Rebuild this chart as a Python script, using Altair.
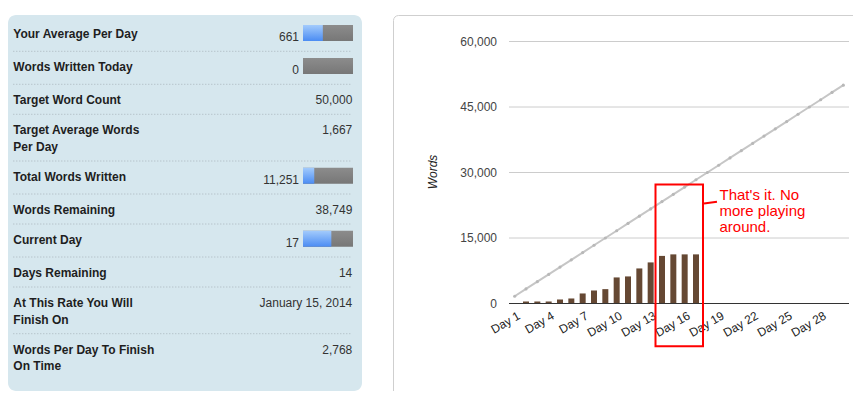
import altair as alt
import pandas as pd

# ---------------- data ----------------
days = [f"Day {i}" for i in range(1, 31)]
words_written = [0, 460, 460, 460, 920, 1150, 2300, 2980, 3290, 5970, 6200,
                 8030, 9410, 10900, 11251, 11251, 11251]
target_path = [1667, 3333, 5000, 6667, 8333, 10000, 11667, 13333, 15000, 16667,
               18333, 20000, 21667, 23333, 25000, 26667, 28333, 30000, 31667, 33333,
               35000, 36667, 38333, 40000, 41667, 43333, 45000, 46667, 48333, 50000]
y_ticks = [0, 15000, 30000, 45000, 60000]
x_tick_days = ["Day 1", "Day 4", "Day 7", "Day 10", "Day 13", "Day 16",
               "Day 19", "Day 22", "Day 25", "Day 28"]
y_title = "Words"
note_text = "That's it. No\nmore playing\naround."

stat_labels = ["Your Average Per Day", "Words Written Today", "Target Word Count",
               "Target Average Words\nPer Day", "Total Words Written", "Words Remaining",
               "Current Day", "Days Remaining", "At This Rate You Will\nFinish On",
               "Words Per Day To Finish\nOn Time"]
stat_values = ["661", "0", "50,000", "1,667", "11,251", "38,749", "17", "14",
               "January 15, 2014", "2,768"]
progress_done = [661, 0, None, None, 11251, None, 17, None, None, None]
progress_goal = [1667, 1667, None, None, 50000, None, 30, None, None, None]

# ---------------- layout (chart pixel coords = page - 8) ----------------
W, H = 845, 383
FONT = "Liberation Sans"

rows = []
top = 10.3
for i, (lab, val) in enumerate(zip(stat_labels, stat_values)):
    n_lines = lab.count("\n") + 1
    has_bar = progress_done[i] is not None
    h = 30 + 16.7 * (n_lines - 1) + (3 if has_bar else 0)
    rows.append({
        "label": lab, "value": val, "has_bar": has_bar,
        "frac": (progress_done[i] / progress_goal[i]) if has_bar else 0,
        "label_y": top + 20, "value_y": top + (22.5 if has_bar else 20),
        "bar_y": top + 6.7, "bar_y2": top + 22.7,
        "sep_y": top + h, "last": i == len(stat_labels) - 1,
    })
    top += h
table_df = pd.DataFrame(rows)

ident_y = alt.Scale(domain=[0, H], range=[0, H], zero=False, nice=False)

panel_bg = alt.Chart(pd.DataFrame({"a": [0]})).mark_rect(
    color="#d6e7ee", cornerRadius=8
).encode(x=alt.value(0), x2=alt.value(354), y=alt.value(7), y2=alt.value(383))

right_border = alt.Chart(pd.DataFrame({"a": [0]})).mark_rect(
    fill="white", fillOpacity=0, stroke="#cfcfcf", strokeWidth=1, cornerRadius=5
).encode(x=alt.value(385.5), x2=alt.value(1200), y=alt.value(7.5), y2=alt.value(900))

base_t = alt.Chart(table_df)

lab_text = base_t.mark_text(
    align="left", baseline="alphabetic", font=FONT, fontSize=12, fontWeight="bold",
    color="#1e1e1e", lineBreak="\n", lineHeight=16.7
).encode(x=alt.value(5.3), y=alt.Y("label_y:Q", scale=ident_y, axis=None), text="label:N")

val_plain = base_t.transform_filter("!datum.has_bar").mark_text(
    align="right", baseline="alphabetic", font=FONT, fontSize=12, color="#333333"
).encode(x=alt.value(344.3), y=alt.Y("value_y:Q", scale=ident_y, axis=None), text="value:N")

val_bar = base_t.transform_filter("datum.has_bar").mark_text(
    align="right", baseline="alphabetic", font=FONT, fontSize=12, color="#333333"
).encode(x=alt.value(291), y=alt.Y("value_y:Q", scale=ident_y, axis=None), text="value:N")

seps = base_t.transform_filter("!datum.last").mark_rule(
    color="#a9b6bc", strokeWidth=1, strokeDash=[1, 2]
).encode(x=alt.value(5.3), x2=alt.value(344.3), y=alt.Y("sep_y:Q", scale=ident_y, axis=None))

gray_bar = base_t.transform_filter("datum.has_bar").mark_rect(
    color={"gradient": "linear", "x1": 0, "y1": 0, "x2": 0, "y2": 1,
           "stops": [{"offset": 0, "color": "#8c8c8c"}, {"offset": 1, "color": "#777777"}]}
).encode(x=alt.value(295), x2=alt.value(345),
         y=alt.Y("bar_y:Q", scale=ident_y, axis=None), y2="bar_y2:Q")

blue_bar = base_t.transform_filter("datum.has_bar").mark_rect(
    color={"gradient": "linear", "x1": 0, "y1": 0, "x2": 0, "y2": 1,
           "stops": [{"offset": 0, "color": "#a3cbfc"}, {"offset": 1, "color": "#4b8cf3"}]}
).encode(x=alt.X("frac:Q", scale=alt.Scale(domain=[0, 1], range=[295, 345], zero=False, nice=False), axis=None),
         x2=alt.value(295),
         y=alt.Y("bar_y:Q", scale=ident_y, axis=None), y2="bar_y2:Q")

table = alt.layer(lab_text, val_plain, val_bar, seps, gray_bar, blue_bar)

# ---------------- main chart ----------------
xs = alt.Scale(domain=days, range=[501, 841], paddingInner=0, paddingOuter=0)
ys = alt.Scale(domain=[0, 60000], range=[295.5, 33.5], zero=False, nice=False)

bars_df = pd.DataFrame({"day": days[:len(words_written)], "words": words_written})
line_df = pd.DataFrame({"day": days, "target": target_path})
ytick_df = pd.DataFrame({"v": y_ticks})
xtick_df = pd.DataFrame({"day": x_tick_days})

grid = alt.Chart(ytick_df).transform_filter("datum.v > 0").mark_rule(
    color="#cccccc", strokeWidth=1
).encode(x=alt.value(501), x2=alt.value(841), y=alt.Y("v:Q", scale=ys, axis=None))

ylab = alt.Chart(ytick_df).mark_text(
    align="right", baseline="middle", font=FONT, fontSize=12, color="#444444"
).encode(x=alt.value(489), y=alt.Y("v:Q", scale=ys, axis=None), text=alt.Text("v:Q", format=","))

bars = alt.Chart(bars_df).mark_bar(size=6, color="#654833").encode(
    x=alt.X("day:N", scale=xs, axis=None, sort=days),
    y=alt.Y("words:Q", scale=ys, axis=None),
)

zero_line = alt.Chart(ytick_df).transform_filter("datum.v == 0").mark_rule(
    color="#333333", strokeWidth=1
).encode(x=alt.value(501), x2=alt.value(841), y=alt.Y("v:Q", scale=ys, axis=None))

line = alt.Chart(line_df).mark_line(color="#c6c6c6", strokeWidth=2).encode(
    x=alt.X("day:N", scale=xs, axis=None, sort=days),
    y=alt.Y("target:Q", scale=ys, axis=None),
)
pts = alt.Chart(line_df).mark_point(filled=True, size=10, color="#b8b8b8", opacity=1).encode(
    x=alt.X("day:N", scale=xs, axis=None, sort=days),
    y=alt.Y("target:Q", scale=ys, axis=None),
)

xlab = alt.Chart(xtick_df).mark_text(
    align="right", baseline="middle", font=FONT, fontSize=12, color="#222222", angle=330,
    dx=4, dy=2
).encode(x=alt.X("day:N", scale=xs, axis=None, sort=days), y=alt.value(307), text="day:N")

main = alt.layer(grid, ylab, bars, zero_line, line, pts, xlab)

# ---------------- decorations ----------------
one = pd.DataFrame({"a": [0]})
title = alt.Chart(one).mark_text(
    font=FONT, fontSize=12, fontStyle="italic", color="#222222", angle=270,
    align="center", baseline="middle", text=y_title
).encode(x=alt.value(425), y=alt.value(164))

box = alt.Chart(one).mark_rect(
    fill="white", fillOpacity=0, stroke="#ff0000", strokeWidth=2
).encode(x=alt.value(647.5), x2=alt.value(695), y=alt.value(176.5), y2=alt.value(338.3))

connector = alt.Chart(one).mark_rule(color="#ff0000", strokeWidth=2).encode(
    x=alt.value(696), x2=alt.value(709), y=alt.value(195.5), y2=alt.value(193.8))

note = alt.Chart(one).mark_text(
    align="left", baseline="alphabetic", font=FONT, fontSize=15, color="#ff0000",
    lineBreak="\n", lineHeight=16, text=note_text
).encode(x=alt.value(711.5), y=alt.value(191.5))

chart = alt.layer(
    panel_bg, right_border, table, main, title, box, connector, note
).resolve_scale(x="independent", y="independent").properties(
    width=W, height=H, padding=0, autosize=alt.AutoSizeParams(type="none"),
    background="white"
).configure_view(strokeWidth=0)

chart.save("out.html", embed_options={"renderer": "svg", "actions": False})
